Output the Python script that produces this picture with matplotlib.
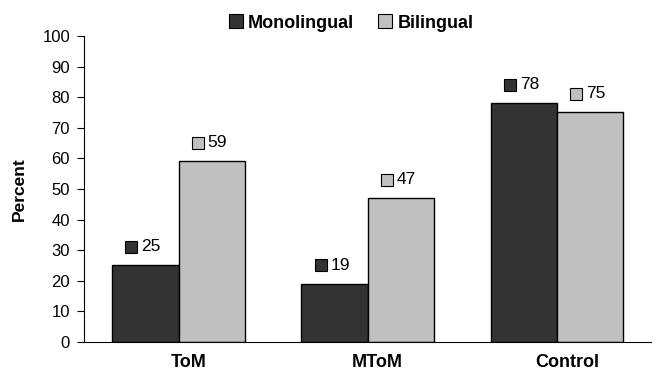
import numpy as np
import matplotlib
matplotlib.use('Agg')
import matplotlib.pyplot as plt
from matplotlib.patches import Patch
from matplotlib import transforms

plt.rcParams['font.family'] = ['Liberation Sans', 'DejaVu Sans']

# percentages per task
categories = ['ToM', 'MToM', 'Control']
monolingual = [25, 19, 78]
bilingual = [59, 47, 75]

dark = '#333333'
light = '#c0c0c0'

fig = plt.figure(figsize=(6.56, 3.70), dpi=100)
ax = fig.add_axes([0.128, 0.0757, 0.865, 0.827])

x = np.arange(len(categories))
w = 0.35
ax.bar(x - w / 2, monolingual, w, color=dark, edgecolor='black', linewidth=1.0, zorder=2)
ax.bar(x + w / 2, bilingual, w, color=light, edgecolor='black', linewidth=1.0, zorder=2)

# value labels: little square key followed by the number
for xs, vals, col in [(x - w / 2, monolingual, dark), (x + w / 2, bilingual, light)]:
    for xi, v in zip(xs, vals):
        tr = transforms.offset_copy(ax.transData, fig=fig, x=-14, y=18.5, units='dots')
        ax.plot([xi], [v], marker='s', markersize=8.6, markerfacecolor=col,
                markeredgecolor='black', markeredgewidth=0.8, transform=tr,
                clip_on=False, zorder=3)
        ax.annotate(f'{v}', xy=(xi, v), xytext=(-4, 18.5), textcoords='offset pixels',
                    ha='left', va='center', fontsize=12.5, annotation_clip=False)

ax.set_xlim(-0.5, 2.5)
ax.set_ylim(0, 100)
ax.set_yticks(range(0, 101, 10))
ax.tick_params(axis='y', labelsize=12, length=5, width=0.8, pad=5)
ax.set_xticks(x)
ax.set_xticklabels(categories, fontsize=13, fontweight='bold')
ax.tick_params(axis='x', length=0, pad=9)
shift = transforms.ScaledTranslation(10 / 100, 0, fig.dpi_scale_trans)
for lbl in ax.get_xticklabels():
    lbl.set_transform(lbl.get_transform() + shift)

ax.set_ylabel('Percent', fontsize=12.5, fontweight='bold')
ax.yaxis.set_label_coords(-0.100, 0.5)

for s in ['top', 'right']:
    ax.spines[s].set_visible(False)
ax.spines['left'].set_linewidth(0.8)
ax.spines['bottom'].set_linewidth(0.8)

handles = [Patch(facecolor=dark, edgecolor='black', linewidth=0.8, label='Monolingual'),
           Patch(facecolor=light, edgecolor='black', linewidth=0.8, label='Bilingual')]
fig.legend(handles=handles, loc='center', bbox_to_anchor=(351 / 656, 1 - 23 / 370), ncol=2,
           frameon=False, prop={'weight': 'bold', 'size': 13}, handlelength=0.78,
           handleheight=0.78, handletextpad=0.3, columnspacing=1.3, borderpad=0.2)

fig.savefig('out.png', dpi=100)
